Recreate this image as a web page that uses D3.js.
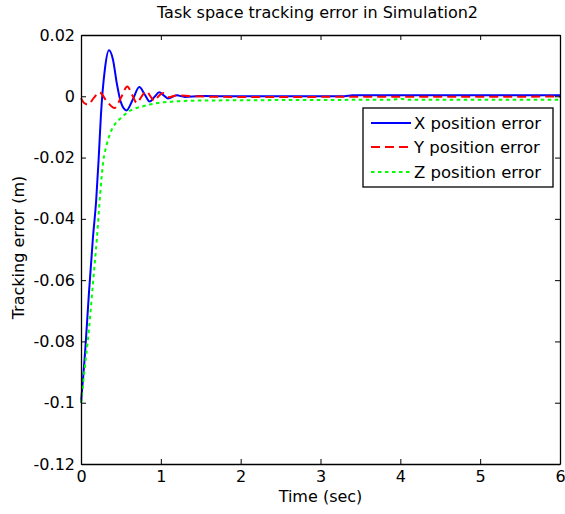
<!DOCTYPE html>
<html>
<head>
<meta charset="utf-8">
<script src="https://cdn.jsdelivr.net/npm/d3@7.9.0/dist/d3.min.js"></script>
<style>
  html, body { margin: 0; padding: 0; background: #fff; }
  svg { display: block; font-family: "DejaVu Sans", sans-serif; }
</style>
</head>
<body>
<svg id="chart" width="565" height="514"></svg>
<script>
// sampled error traces: [time (sec), error (m)]
const xError = [
  [0, -0.1], [0.05, -0.084], [0.1, -0.064], [0.15, -0.046], [0.19, -0.034],
  [0.22, -0.021], [0.25, -0.006], [0.3, 0.009], [0.35, 0.015], [0.4, 0.012],
  [0.45, 0.004], [0.5, -0.002], [0.57, -0.0046], [0.65, -0.001], [0.73, 0.003],
  [0.8, 0.0005], [0.86, -0.0017], [0.92, -0.0002], [0.98, 0.0013], [1.04, 0.0002],
  [1.09, -0.0007], [1.2, 0.0003], [1.3, -0.0002], [1.5, 0.0001], [2, 0],
  [3.3, 0], [3.4, 0.0003], [6, 0.0003]
];
const yError = [
  [0, -0.0006], [0.04, -0.0022], [0.09, -0.0027], [0.16, -0.0005], [0.23, 0.0013],
  [0.32, -0.0015], [0.42, -0.0038], [0.5, -0.0005], [0.58, 0.0032], [0.64, 0.0005],
  [0.7, -0.0022], [0.76, 0], [0.82, 0.0016], [0.87, 0], [0.92, -0.0015],
  [0.97, 0], [1.03, 0.0011], [1.1, -0.0003], [1.2, 0.0003], [1.4, 0],
  [2, -0.0002], [6, -0.0001]
];
const zError = [
  [0, -0.1], [0.05, -0.088], [0.1, -0.076], [0.15, -0.061], [0.2, -0.046],
  [0.24, -0.032], [0.28, -0.021], [0.32, -0.016], [0.36, -0.0125], [0.44, -0.0086],
  [0.5, -0.0071], [0.6, -0.0049], [0.7, -0.0038], [0.8, -0.0031], [0.96, -0.0022],
  [1.17, -0.0017], [1.5, -0.0014], [2, -0.0013], [3, -0.0012], [3.9, -0.0011],
  [4, -0.0008], [4.1, -0.0011], [6, -0.0011]
];

const xTicks = [0, 1, 2, 3, 4, 5, 6];
const yTicks = [-0.12, -0.1, -0.08, -0.06, -0.04, -0.02, 0, 0.02];
const seriesNames = ['X position error', 'Y position error', 'Z position error'];

const width = 565, height = 514;
const margin = { top: 35, right: 5, bottom: 50, left: 81 };
const svg = d3.select('#chart');

const x = d3.scaleLinear().domain([0, 6]).range([margin.left, width - margin.right]);
const y = d3.scaleLinear().domain([-0.12, 0.02]).range([height - margin.bottom, margin.top]);

const fmtY = d => d === 0 ? '0' : d3.format('.2~f')(d).replace('−', '-');

const series = [
  { data: xError, color: '#0000ff', dash: null },
  { data: yError, color: '#ff0000', dash: '9,5' },
  { data: zError, color: '#00ff00', dash: '3.5,3.5' }
];

const line = d3.line()
  .x(d => x(d[0]))
  .y(d => y(d[1]))
  .curve(d3.curveMonotoneX);

const plot = svg.append('g');
series.forEach(s => {
  plot.append('path')
    .datum(s.data)
    .attr('fill', 'none')
    .attr('stroke', s.color)
    .attr('stroke-width', 2)
    .attr('stroke-dasharray', s.dash)
    .attr('d', line);
});

// box-style axes with inward ticks on all four sides
const tickLen = 5;
const fontSize = 16;
const axisBottomG = svg.append('g')
  .attr('transform', `translate(0,${y.range()[0]})`)
  .call(d3.axisBottom(x).tickValues(xTicks).tickSizeInner(-tickLen).tickSizeOuter(0)
    .tickPadding(7).tickFormat(d3.format('d')));
const axisTopG = svg.append('g')
  .attr('transform', `translate(0,${y.range()[1]})`)
  .call(d3.axisTop(x).tickValues(xTicks).tickSizeInner(-tickLen).tickSizeOuter(0).tickFormat(''));
const axisLeftG = svg.append('g')
  .attr('transform', `translate(${x.range()[0]},0)`)
  .call(d3.axisLeft(y).tickValues(yTicks).tickSizeInner(-tickLen).tickSizeOuter(0)
    .tickPadding(6).tickFormat(fmtY));
const axisRightG = svg.append('g')
  .attr('transform', `translate(${x.range()[1]},0)`)
  .call(d3.axisRight(y).tickValues(yTicks).tickSizeInner(-tickLen).tickSizeOuter(0).tickFormat(''));

[axisBottomG, axisTopG, axisLeftG, axisRightG].forEach(g => {
  g.select('.domain').attr('stroke', '#000').attr('stroke-width', 1.3);
  g.selectAll('.tick line').attr('stroke', '#000');
  g.selectAll('.tick text')
    .attr('fill', '#000')
    .style('font-size', fontSize + 'px')
    .style('font-family', '"DejaVu Sans", sans-serif');
});

// title and axis labels
svg.append('text')
  .attr('x', (margin.left + width - margin.right) / 2 - 3)
  .attr('y', 18)
  .attr('text-anchor', 'middle')
  .style('font-size', '16px')
  .text('Task space tracking error in Simulation2');

svg.append('text')
  .attr('x', (margin.left + width - margin.right) / 2)
  .attr('y', 502)
  .attr('text-anchor', 'middle')
  .style('font-size', fontSize + 'px')
  .text('Time (sec)');

svg.append('text')
  .attr('transform', `translate(24,${(y.range()[0] + y.range()[1]) / 2 - 2}) rotate(-90)`)
  .attr('text-anchor', 'middle')
  .style('font-size', fontSize + 'px')
  .text('Tracking error (m)');

// legend
const legend = svg.append('g').attr('transform', 'translate(363,108)');
legend.append('rect')
  .attr('width', 190).attr('height', 79)
  .attr('fill', '#fff').attr('stroke', '#000').attr('stroke-width', 1.3);
const rowY = [15, 39, 64];
series.forEach((s, i) => {
  legend.append('line')
    .attr('x1', 8).attr('x2', 48)
    .attr('y1', rowY[i]).attr('y2', rowY[i])
    .attr('stroke', s.color)
    .attr('stroke-width', 2)
    .attr('stroke-dasharray', s.dash);
  legend.append('text')
    .attr('x', 51).attr('y', rowY[i])
    .attr('dy', '0.36em')
    .style('font-size', '16.5px')
    .text(seriesNames[i]);
});
</script>
</body>
</html>
